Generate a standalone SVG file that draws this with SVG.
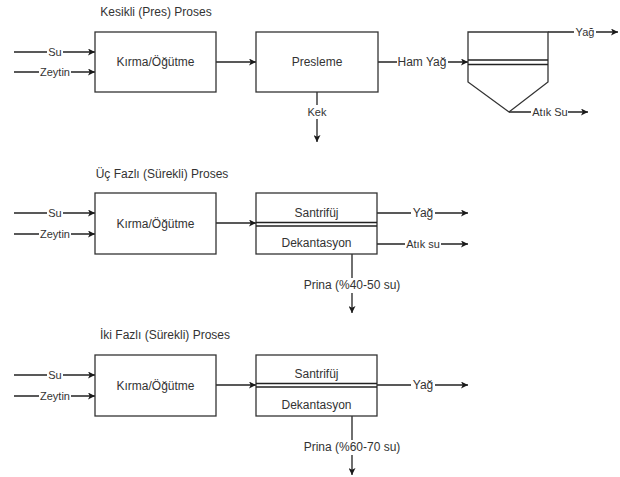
<svg xmlns="http://www.w3.org/2000/svg" width="620" height="477" viewBox="0 0 620 477">
<defs>
<marker id="ah" viewBox="0 0 10 10" refX="10" refY="5" markerWidth="7" markerHeight="7" markerUnits="userSpaceOnUse" orient="auto">
<path d="M0,0 L10,5 L0,10 L2.5,5 Z" fill="#1a1a1a"/>
</marker>
<style>
.b{fill:#fff;stroke:#333;stroke-width:1.3}
.l{fill:none;stroke:#222;stroke-width:1.3}
.a{fill:none;stroke:#222;stroke-width:1.3;marker-end:url(#ah)}
.t{font-family:"Liberation Sans",Arial,sans-serif;font-size:12px;fill:#333;text-anchor:middle;dominant-baseline:central}
.s{font-family:"Liberation Sans",Arial,sans-serif;font-size:11px;fill:#333;text-anchor:middle;dominant-baseline:central}
.bg{fill:#fff}
</style>
</defs>
<rect width="620" height="477" fill="#fff"/>

<!-- Titles -->
<text class="t" x="156" y="12">Kesikli (Pres) Proses</text>
<text class="t" x="162" y="174">Üç Fazlı (Sürekli) Proses</text>
<text class="t" x="165" y="335">İki Fazlı (Sürekli) Proses</text>

<g id="connectors">
<!-- Section 1 -->
<line class="a" x1="14" y1="52" x2="95" y2="52"/>
<line class="a" x1="14" y1="72" x2="95" y2="72"/>
<line class="a" x1="216" y1="62" x2="256" y2="62"/>
<line class="a" x1="378" y1="62" x2="468" y2="62"/>
<polyline class="a" points="548,32 618,32"/>
<line class="a" x1="509" y1="112" x2="588" y2="112"/>
<line class="a" x1="317" y1="92" x2="317" y2="142"/>
<!-- Section 2 -->
<line class="a" x1="14" y1="213" x2="95" y2="213"/>
<line class="a" x1="14" y1="234" x2="95" y2="234"/>
<line class="a" x1="216" y1="223" x2="256" y2="223"/>
<line class="a" x1="377" y1="213" x2="468" y2="213"/>
<line class="a" x1="377" y1="244" x2="468" y2="244"/>
<line class="a" x1="352" y1="254" x2="352" y2="313"/>
<!-- Section 3 -->
<line class="a" x1="14" y1="375" x2="95" y2="375"/>
<line class="a" x1="14" y1="396" x2="95" y2="396"/>
<line class="a" x1="216" y1="385" x2="256" y2="385"/>
<line class="a" x1="377" y1="385" x2="468" y2="385"/>
<line class="a" x1="352" y1="416" x2="352" y2="475"/>

<!-- Labels -->
<rect class="bg" x="47" y="45" width="16" height="14"/><text class="s" x="55" y="52">Su</text>
<rect class="bg" x="39" y="65" width="32" height="14"/><text class="s" x="55" y="72">Zeytin</text>
<rect class="bg" x="397" y="55" width="51" height="14"/><text class="t" x="422" y="62">Ham Yağ</text>
<rect class="bg" x="574" y="25" width="22" height="14"/><text class="s" x="585" y="32">Yağ</text>
<rect class="bg" x="531" y="105" width="37" height="14"/><text class="s" x="550" y="112">Atık Su</text>
<rect class="bg" x="306" y="105" width="22" height="14"/><text class="s" x="317" y="112">Kek</text>

<rect class="bg" x="47" y="206" width="16" height="14"/><text class="s" x="55" y="213">Su</text>
<rect class="bg" x="39" y="227" width="32" height="14"/><text class="s" x="55" y="234">Zeytin</text>
<rect class="bg" x="411" y="206" width="24" height="14"/><text class="t" x="423" y="213">Yağ</text>
<rect class="bg" x="405" y="237" width="36" height="14"/><text class="s" x="423" y="244">Atık su</text>
<rect class="bg" x="302" y="278" width="100" height="15"/><text class="t" x="352" y="285">Prina (%40-50 su)</text>

<rect class="bg" x="47" y="368" width="16" height="14"/><text class="s" x="55" y="375">Su</text>
<rect class="bg" x="39" y="389" width="32" height="14"/><text class="s" x="55" y="396">Zeytin</text>
<rect class="bg" x="411" y="378" width="24" height="14"/><text class="t" x="423" y="385">Yağ</text>
<rect class="bg" x="302" y="440" width="100" height="15"/><text class="t" x="352" y="447">Prina (%60-70 su)</text>
</g>

<!-- Section 1 nodes -->
<g id="kirma1">
<rect class="b" x="95" y="32" width="121" height="60"/>
<text class="t" x="155.5" y="62">Kırma/Öğütme</text>
</g>
<g id="presleme">
<rect class="b" x="256" y="32" width="122" height="60"/>
<text class="t" x="317" y="62">Presleme</text>
</g>
<g id="ayirici">
<path class="b" d="M468,32 L548,32 L548,82 L509,112 L468,82 Z"/>
<line class="l" x1="468" y1="60" x2="548" y2="60"/>
<line class="l" x1="468" y1="64.5" x2="548" y2="64.5"/>
</g>

<!-- Section 2 nodes -->
<g id="kirma2">
<rect class="b" x="95" y="193" width="121" height="61"/>
<text class="t" x="155.5" y="223.5">Kırma/Öğütme</text>
</g>
<g id="santrifuj2">
<rect class="b" x="256" y="193" width="121" height="61"/>
<line class="l" x1="256" y1="222.5" x2="377" y2="222.5"/>
<line class="l" x1="256" y1="226" x2="377" y2="226"/>
<text class="t" x="316.5" y="213">Santrifüj</text>
<text class="t" x="316.5" y="243">Dekantasyon</text>
</g>

<!-- Section 3 nodes -->
<g id="kirma3">
<rect class="b" x="95" y="355" width="121" height="61"/>
<text class="t" x="155.5" y="385.5">Kırma/Öğütme</text>
</g>
<g id="santrifuj3">
<rect class="b" x="256" y="355" width="121" height="61"/>
<line class="l" x1="256" y1="383.5" x2="377" y2="383.5"/>
<line class="l" x1="256" y1="387" x2="377" y2="387"/>
<text class="t" x="316.5" y="374">Santrifüj</text>
<text class="t" x="316.5" y="405">Dekantasyon</text>
</g>
</svg>
